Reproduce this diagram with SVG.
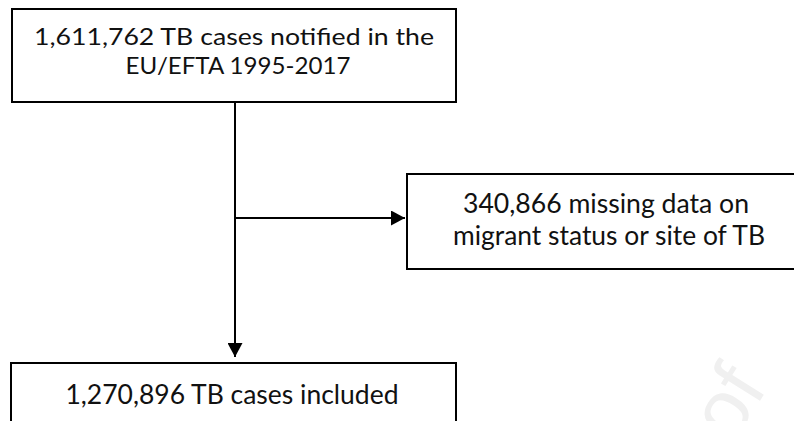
<svg xmlns="http://www.w3.org/2000/svg" width="794" height="421" viewBox="0 0 794 421">
<defs>
<style>
.box{fill:#fff;stroke:#000;stroke-width:2}
.t{font-family:Lato,"Liberation Sans",sans-serif;fill:#111;text-anchor:middle}
.conn{stroke:#000;stroke-width:2;fill:none}
.wm{font-family:"Liberation Sans",sans-serif;fill:#f0f0f0;font-size:80px}
</style>
<marker id="ah" markerWidth="14" markerHeight="15" refX="14" refY="7.5" orient="auto" markerUnits="userSpaceOnUse">
<path d="M0,0 L14,7.5 L0,15 Z" fill="#000"/>
</marker>
</defs>
<rect width="794" height="421" fill="#fff"/>
<text class="wm" x="768" y="388" text-anchor="end" transform="rotate(-58 768 388)">Journal Pre-proof</text>
<g id="connectors">
<line class="conn" x1="235" y1="102" x2="235" y2="357" marker-end="url(#ah)"/>
<line class="conn" x1="235" y1="218" x2="405" y2="218" marker-end="url(#ah)"/>
</g>
<g id="node1">
<rect class="box" x="12" y="9" width="444" height="93"/>
<text class="t" x="234" y="45" font-size="24" textLength="400" lengthAdjust="spacingAndGlyphs">1,611,762 TB cases notified in the</text>
<text class="t" x="238" y="74" font-size="24" textLength="225" lengthAdjust="spacingAndGlyphs">EU/EFTA 1995-2017</text>
</g>
<g id="node2">
<rect class="box" x="407" y="174" width="400" height="95"/>
<text class="t" x="606" y="213" font-size="26" textLength="286" lengthAdjust="spacingAndGlyphs">340,866 missing data on</text>
<text class="t" x="609" y="245" font-size="26" textLength="312" lengthAdjust="spacingAndGlyphs">migrant status or site of TB</text>
</g>
<g id="node3">
<rect class="box" x="11" y="363" width="445" height="80"/>
<text class="t" x="232" y="404" font-size="26" textLength="333" lengthAdjust="spacingAndGlyphs">1,270,896 TB cases included</text>
</g>
</svg>
